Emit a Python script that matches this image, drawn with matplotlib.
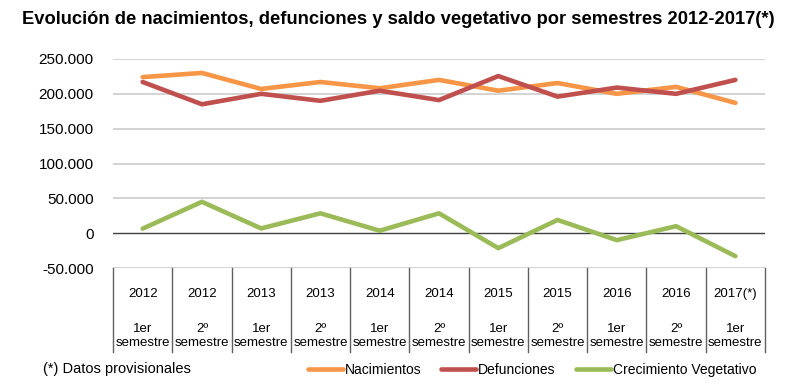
import numpy as np
import matplotlib.pyplot as plt

plt.rcParams['font.family'] = ['Liberation Sans', 'DejaVu Sans']

years = ["2012", "2012", "2013", "2013", "2014", "2014", "2015", "2015", "2016", "2016", "2017(*)"]
halves = ["1er", "2º", "1er", "2º", "1er", "2º", "1er", "2º", "1er", "2º", "1er"]
nacimientos = [224000, 230000, 207000, 217000, 208000, 220000, 204500, 215500, 200000, 210000, 187000]
defunciones = [217000, 185000, 200000, 190000, 204500, 191000, 225500, 196000, 209000, 200000, 220000]
crecimiento = [6500, 45000, 6800, 28500, 3500, 28500, -21500, 19000, -10000, 10000, -33000]

fig = plt.figure(figsize=(7.94, 3.9), dpi=100)
ax = fig.add_axes([113/794, 1 - 268/390, (765 - 113)/794, (268 - 59)/390])

x = np.arange(len(years)) + 0.5
ax.plot(x, nacimientos, color="#F79646", lw=3.3, label="Nacimientos", solid_capstyle="round")
ax.plot(x, defunciones, color="#C0504D", lw=3.3, label="Defunciones", solid_capstyle="round")
ax.plot(x, crecimiento, color="#9BBB59", lw=3.3, label="Crecimiento Vegetativo", solid_capstyle="round")

ax.set_xlim(0, len(years))
ax.set_ylim(-50000, 250000)
ax.set_yticks(range(-50000, 250001, 50000))
ax.set_yticklabels([f"{v:,}".replace(",", ".") for v in range(-50000, 250001, 50000)], fontsize=11)
ax.tick_params(axis="y", length=0, pad=14)
ax.set_xticks([])
for s in ax.spines.values():
    s.set_visible(False)
for v in range(-50000, 250001, 50000):
    if v == 0:
        continue
    ax.axhline(v, color="#C8C8C8", lw=1.1, zorder=0)
ax.axhline(0, color="#404040", lw=1, zorder=0.5)

# category boxes under the plot
trans = ax.get_xaxis_transform()
h = 268 - 59
bottom = -(352 - 268) / h
for b in range(len(years) + 1):
    ax.plot([b, b], [0, bottom], color="#606060", lw=1, transform=trans, clip_on=False)
for i in range(len(years)):
    ax.text(x[i], -(294 - 268) / h, years[i], transform=trans, ha="center", va="center", fontsize=9.5)
    ax.text(x[i], -(329 - 268) / h, halves[i], transform=trans, ha="center", va="center", fontsize=9.5)
    ax.text(x[i], -(343 - 268) / h, "semestre", transform=trans, ha="center", va="center", fontsize=9.5)

fig.text(22/794, 1 - 19/390, "Evolución de nacimientos, defunciones y saldo vegetativo por semestres 2012-2017(*)",
         fontsize=13.2, fontweight="bold", va="center", ha="left")
fig.text(43/794, 1 - 369/390, "(*) Datos provisionales", fontsize=10.5, va="center", ha="left")

ax.legend(loc="center", bbox_to_anchor=(532/794, 1 - 370/390), bbox_transform=fig.transFigure,
          ncol=3, frameon=False, fontsize=10, handlelength=2.5, handletextpad=0.15, columnspacing=1.45)

fig.savefig("out.png", dpi=100)
